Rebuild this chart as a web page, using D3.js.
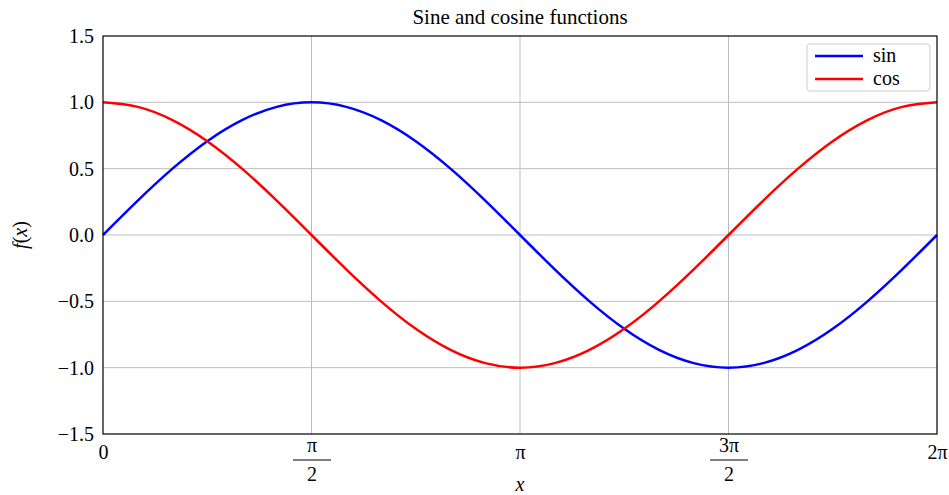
<!DOCTYPE html>
<html>
<head>
<meta charset="utf-8">
<script src="https://cdn.jsdelivr.net/npm/d3@7"></script>
<style>
  body { margin: 0; background: #fff; }
  svg text { font-family: "Liberation Serif", "DejaVu Serif", serif !important; fill: #000; }
</style>
</head>
<body>
<svg id="chart" width="949" height="495"></svg>
<script>
// samples every pi/12 over [0, 2pi]
const xSteps = d3.range(25) // multiples of pi/12
const sinValues = [0, 0.259, 0.5, 0.707, 0.866, 0.966, 1, 0.966, 0.866, 0.707, 0.5, 0.259, 0,
  -0.259, -0.5, -0.707, -0.866, -0.966, -1, -0.966, -0.866, -0.707, -0.5, -0.259, 0]
const cosValues = [1, 0.966, 0.866, 0.707, 0.5, 0.259, 0, -0.259, -0.5, -0.707, -0.866, -0.966, -1,
  -0.966, -0.866, -0.707, -0.5, -0.259, 0, 0.259, 0.5, 0.707, 0.866, 0.966, 1]
const seriesNames = ['sin', 'cos']
const seriesColors = ['#0000ff', '#ff0000']
const xTicks = [0, Math.PI / 2, Math.PI, 3 * Math.PI / 2, 2 * Math.PI]
const xTickLabels = [['0'], ['π', '2'], ['π'], ['3π', '2'], ['2π']]
const yTicks = [-1.5, -1, -0.5, 0, 0.5, 1, 1.5]

const svg = d3.select('#chart')
const margin = { left: 103, right: 12, top: 36, bottom: 61 }
const W = 949, H = 495
const x = d3.scaleLinear().domain([0, 2 * Math.PI]).range([margin.left, W - margin.right])
const y = d3.scaleLinear().domain([-1.5, 1.5]).range([H - margin.bottom, margin.top])

// grid
svg.append('g').selectAll('line').data(xTicks.slice(1, -1)).join('line')
  .attr('x1', d => x(d)).attr('x2', d => x(d))
  .attr('y1', y(-1.5)).attr('y2', y(1.5))
  .attr('stroke', '#bdbdbd').attr('stroke-width', 1)
svg.append('g').selectAll('line').data(yTicks.slice(1, -1)).join('line')
  .attr('x1', x(0)).attr('x2', x(2 * Math.PI))
  .attr('y1', d => y(d)).attr('y2', d => y(d))
  .attr('stroke', '#bdbdbd').attr('stroke-width', 1)

// y axis labels
const yAxis = svg.append('g')
  .attr('transform', `translate(${margin.left},0)`)
  .call(d3.axisLeft(y).tickValues(yTicks).tickSize(0).tickPadding(9)
    .tickFormat(d => d3.format('.1f')(d).replace('-', '−')))
yAxis.select('.domain').remove()
yAxis.attr('font-family', null)
yAxis.selectAll('text').style('font-size', '20px')

// x axis labels (fractions drawn by hand)
const xAxis = svg.append('g')
  .attr('transform', `translate(0,${y(-1.5)})`)
  .call(d3.axisBottom(x).tickValues(xTicks).tickSize(0).tickFormat(''))
xAxis.select('.domain').remove()
xAxis.attr('font-family', null)
xAxis.selectAll('.tick').each(function (d, i) {
  const g = d3.select(this)
  const lab = xTickLabels[i]
  if (lab.length === 1) {
    g.append('text').attr('text-anchor', 'middle').attr('y', 25)
      .style('font-size', '20px').text(lab[0])
  } else {
    g.append('text').attr('text-anchor', 'middle').attr('y', 18)
      .style('font-size', '20px').text(lab[0])
    g.append('line').attr('x1', -19).attr('x2', 19).attr('y1', 26).attr('y2', 26)
      .attr('stroke', '#000').attr('stroke-width', 1)
    g.append('text').attr('text-anchor', 'middle').attr('y', 47)
      .style('font-size', '20px').text(lab[1])
  }
})

// curves
const line = d3.line().x(d => x(d[0] * Math.PI / 12)).y(d => y(d[1])).curve(d3.curveNatural)
;[sinValues, cosValues].forEach(function (vals, k) {
  svg.append('path')
    .datum(xSteps.map((s, i) => [s, vals[i]]))
    .attr('d', line)
    .attr('fill', 'none')
    .attr('stroke', seriesColors[k])
    .attr('stroke-width', 2.5)
})

// frame
svg.append('rect')
  .attr('x', x(0)).attr('y', y(1.5))
  .attr('width', x(2 * Math.PI) - x(0)).attr('height', y(-1.5) - y(1.5))
  .attr('fill', 'none').attr('stroke', '#000').attr('stroke-width', 1.2)

// title and axis titles
svg.append('text').attr('x', (x(0) + x(2 * Math.PI)) / 2).attr('y', 24)
  .attr('text-anchor', 'middle').style('font-size', '21px').text('Sine and cosine functions')
svg.append('text').attr('x', x(Math.PI)).attr('y', 491)
  .attr('text-anchor', 'middle').style('font-size', '20px').style('font-style', 'italic').text('x')
const fy = svg.append('text').attr('transform', `translate(27,${y(0)}) rotate(-90)`)
  .attr('text-anchor', 'middle').style('font-size', '20px')
fy.append('tspan').style('font-style', 'italic').text('f')
fy.append('tspan').text('(')
fy.append('tspan').style('font-style', 'italic').text('x')
fy.append('tspan').text(')')

// legend
const legend = svg.append('g').attr('transform', 'translate(807,44)')
legend.append('rect').attr('width', 123).attr('height', 47).attr('rx', 3)
  .attr('fill', '#fff').attr('stroke', '#cccccc').attr('stroke-width', 1)
seriesNames.forEach(function (name, k) {
  const row = legend.append('g').attr('transform', `translate(0,${12 + k * 23})`)
  row.append('line').attr('x1', 8).attr('x2', 56).attr('y1', 0).attr('y2', 0)
    .attr('stroke', seriesColors[k]).attr('stroke-width', 2.5)
  row.append('text').attr('x', 66).attr('y', 6).style('font-size', '20px').text(name)
})
</script>
</body>
</html>
